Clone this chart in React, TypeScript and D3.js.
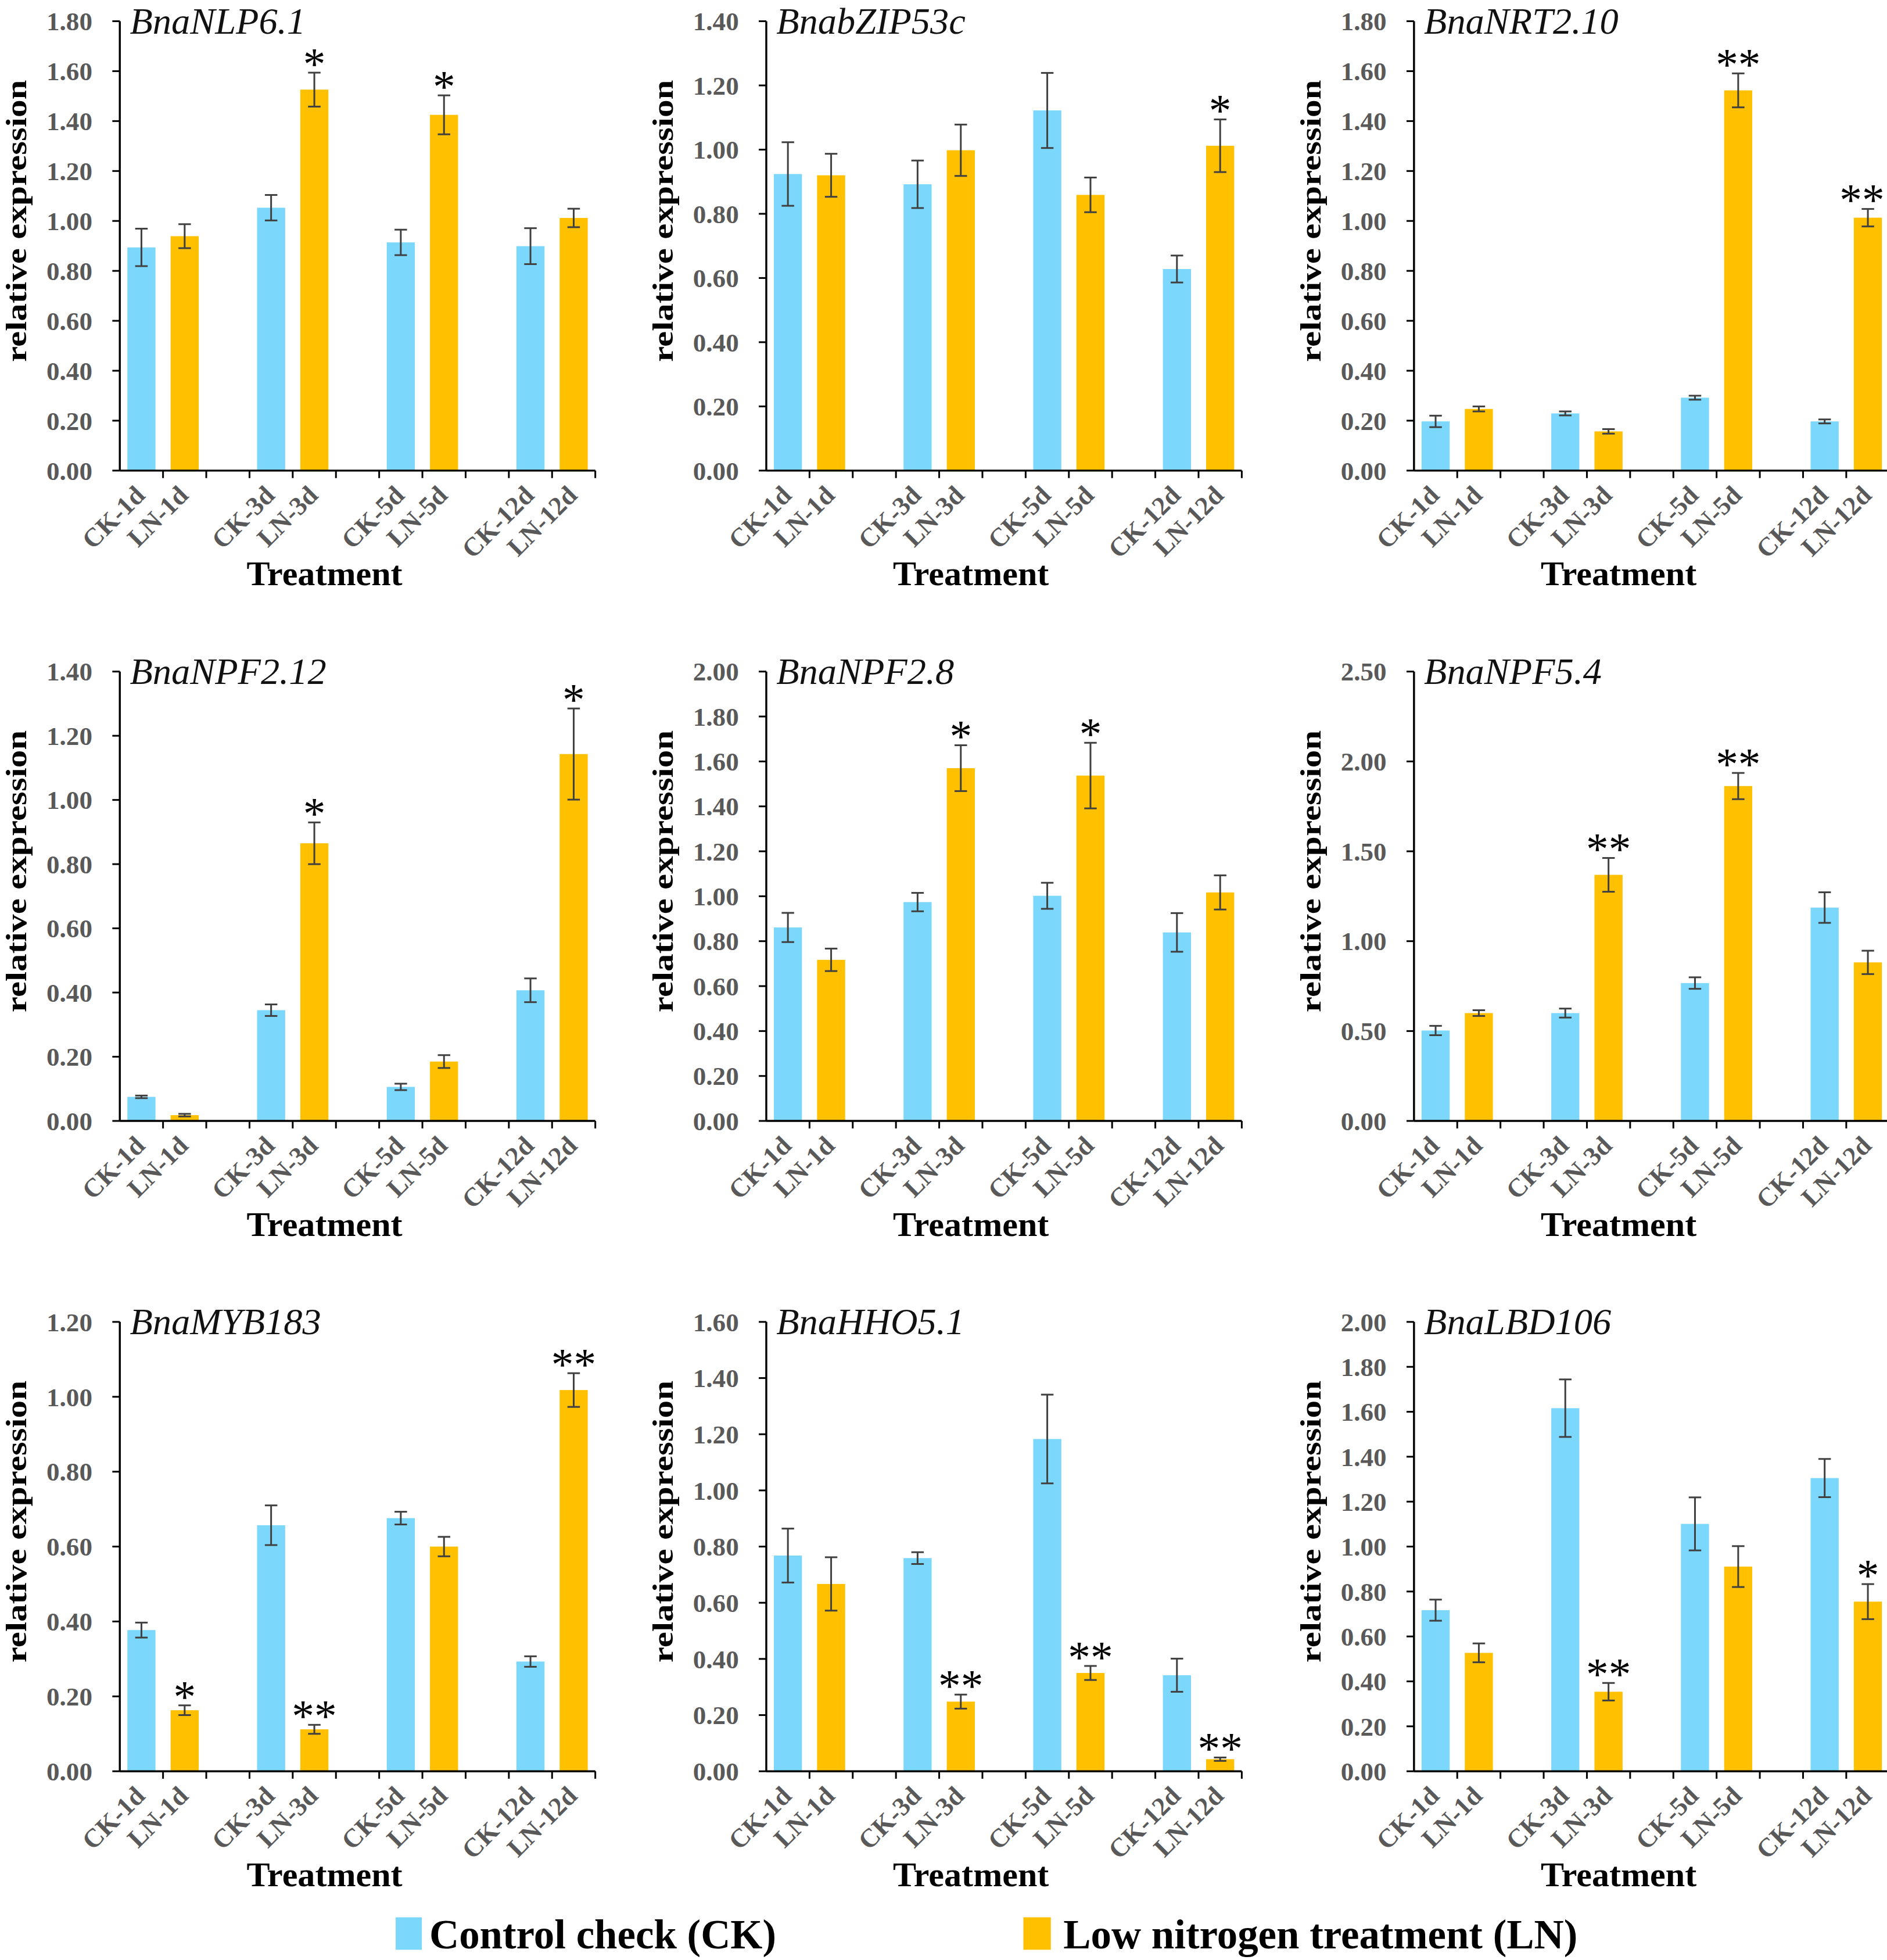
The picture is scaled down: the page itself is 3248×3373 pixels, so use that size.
import React from 'react';
import * as d3 from 'd3';

// gene panels, left to right, top to bottom
const genes = ['BnaNLP6.1', 'BnabZIP53c', 'BnaNRT2.10', 'BnaNPF2.12', 'BnaNPF2.8', 'BnaNPF5.4', 'BnaMYB183', 'BnaHHO5.1', 'BnaLBD106'];
const yMax = [1.8, 1.4, 1.8, 1.4, 2.0, 2.5, 1.2, 1.6, 2.0];
const yStep = [0.2, 0.2, 0.2, 0.2, 0.2, 0.5, 0.2, 0.2, 0.2];

const days = ['1d', '3d', '5d', '12d'];

// control check (CK) mean and error per day
const ckMean = [
  [0.894, 1.053, 0.914, 0.899],
  [0.924, 0.892, 1.122, 0.628],
  [0.197, 0.229, 0.292, 0.197],
  [0.075, 0.345, 0.106, 0.407],
  [0.861, 0.974, 1.002, 0.839],
  [0.503, 0.600, 0.767, 1.187],
  [0.377, 0.657, 0.676, 0.293],
  [0.768, 0.759, 1.183, 0.342],
  [0.717, 1.616, 1.101, 1.305],
];
const ckErr = [
  [0.075, 0.051, 0.051, 0.072],
  [0.099, 0.074, 0.117, 0.042],
  [0.023, 0.008, 0.008, 0.008],
  [0.004, 0.018, 0.010, 0.037],
  [0.065, 0.041, 0.058, 0.086],
  [0.026, 0.025, 0.032, 0.085],
  [0.020, 0.053, 0.017, 0.014],
  [0.096, 0.021, 0.158, 0.059],
  [0.047, 0.128, 0.118, 0.085],
];

// low nitrogen (LN) mean, error and significance mark per day
const lnMean = [
  [0.939, 1.526, 1.425, 1.012],
  [0.920, 0.998, 0.859, 1.012],
  [0.247, 0.157, 1.523, 1.013],
  [0.018, 0.865, 0.185, 1.143],
  [0.717, 1.570, 1.537, 1.017],
  [0.600, 1.369, 1.863, 0.882],
  [0.163, 0.112, 0.600, 1.018],
  [0.667, 0.248, 0.350, 0.043],
  [0.527, 0.354, 0.911, 0.755],
];
const lnErr = [
  [0.048, 0.068, 0.078, 0.037],
  [0.067, 0.080, 0.054, 0.082],
  [0.010, 0.009, 0.068, 0.035],
  [0.004, 0.065, 0.020, 0.142],
  [0.050, 0.102, 0.146, 0.076],
  [0.016, 0.094, 0.073, 0.065],
  [0.013, 0.012, 0.026, 0.045],
  [0.095, 0.025, 0.025, 0.006],
  [0.042, 0.039, 0.091, 0.078],
];
const lnSig = [
  ['', '*', '*', ''],
  ['', '', '', '*'],
  ['', '', '**', '**'],
  ['', '*', '', '*'],
  ['', '*', '*', ''],
  ['', '**', '**', ''],
  ['*', '**', '', '**'],
  ['', '**', '**', '**'],
  ['', '**', '', '*'],
];

const legendLabels = ['Control check (CK)', 'Low nitrogen treatment (LN)'];

const BLUE = '#7BD8FC';
const ORANGE = '#FFC000';
const FONT = '"Liberation Serif", "Times New Roman", serif';

const VW = 1512;
const VH = 1570.2;
const W = 381;
const H = 360;
const colX = [96, 614, 1133];
const rowY = [17, 538, 1059];
const STAR_SIZE = 36;

// 11 slots: CK, LN, gap for each day (no gap after the last)
const slots: string[] = [];
days.forEach((d, i) => {
  slots.push('CK-' + d, 'LN-' + d);
  if (i < days.length - 1) slots.push('gap' + i);
});

function Panel({ g }: { g: number }) {
  const x0 = colX[g % 3];
  const y0 = rowY[Math.floor(g / 3)];

  const x = d3.scaleBand<string>().domain(slots).range([0, W]).paddingInner(0.35).paddingOuter(0.175);
  const y = d3.scaleLinear().domain([0, yMax[g]]).range([H, 0]);
  const ticks = d3.range(0, yMax[g] + 1e-6, yStep[g]);
  const fmt = d3.format('.2f');
  const bw = x.bandwidth();
  const step = x.step();

  const bars = days.flatMap((d, i) => [
    { key: 'CK-' + d, v: ckMean[g][i], e: ckErr[g][i], fill: BLUE, sig: '' },
    { key: 'LN-' + d, v: lnMean[g][i], e: lnErr[g][i], fill: ORANGE, sig: lnSig[g][i] },
  ]);

  return (
    <g transform={`translate(${x0},${y0})`}>
      {bars.map(b => (
        <rect key={b.key} x={x(b.key)} y={y(b.v)} width={bw} height={H - y(b.v)} fill={b.fill} />
      ))}
      {bars.map(b => {
        const cx = (x(b.key) as number) + bw / 2;
        return (
          <g key={'e' + b.key} stroke="#404040" strokeWidth={1.4}>
            <line x1={cx} x2={cx} y1={y(b.v + b.e)} y2={y(b.v - b.e)} />
            <line x1={cx - 5} x2={cx + 5} y1={y(b.v + b.e)} y2={y(b.v + b.e)} />
            <line x1={cx - 5} x2={cx + 5} y1={y(b.v - b.e)} y2={y(b.v - b.e)} />
          </g>
        );
      })}
      {bars.filter(b => b.sig).map(b => {
        const cx = (x(b.key) as number) + bw / 2;
        // keep the mark inside the page at the right edge
        const half = (b.sig.length * STAR_SIZE) / 4;
        const sx = Math.min(cx, VW - 2 - x0 - half);
        return (
          <text key={'s' + b.key} x={sx} y={y(b.v + b.e) + 5} textAnchor="middle"
            fontFamily={FONT} fontSize={STAR_SIZE} fill="#000">
            {b.sig}
          </text>
        );
      })}

      {/* y axis */}
      <line x1={0} x2={0} y1={0} y2={H} stroke="#000" strokeWidth={1.6} />
      {ticks.map(t => (
        <g key={'t' + t} transform={`translate(0,${y(t)})`}>
          <line x1={-6} x2={0} stroke="#000" strokeWidth={1.4} />
          <text x={-22} dy="0.35em" textAnchor="end" fontFamily={FONT} fontWeight="bold" fontSize={21} fill="#595959">
            {fmt(t)}
          </text>
        </g>
      ))}

      {/* x axis */}
      <line x1={0} x2={W} y1={H} y2={H} stroke="#000" strokeWidth={1.6} />
      {slots.map((s, i) => (
        <line key={'xt' + s} x1={(i + 1) * step} x2={(i + 1) * step} y1={H} y2={H + 6} stroke="#000" strokeWidth={1.4} />
      ))}
      {slots.filter(s => !s.startsWith('gap')).map(s => {
        const cx = (x(s) as number) + bw / 2 + 4;
        return (
          <text key={'xl' + s} transform={`translate(${cx},${H + 21}) rotate(-45)`} textAnchor="end"
            fontFamily={FONT} fontWeight="bold" fontSize={21} fill="#595959">
            {s}
          </text>
        );
      })}

      <text x={164} y={H + 92} textAnchor="middle" fontFamily={FONT} fontWeight="bold" fontSize={28} fill="#000">
        Treatment
      </text>
      <text transform={`translate(-75,${160}) rotate(-90)`} textAnchor="middle" fontFamily={FONT} fontWeight="bold"
        fontSize={24} fill="#000" textLength={226} lengthAdjust="spacingAndGlyphs">
        relative expression
      </text>
      <text x={8} y={10} fontFamily={FONT} fontStyle="italic" fontSize={30} fill="#111">
        {genes[g]}
      </text>
    </g>
  );
}

export default function App() {
  return (
    <svg width={3248} height={3373} viewBox={`0 0 ${VW} ${VH}`}
      style={{ position: 'absolute', left: 0, top: 0, background: '#fff' }}>
      <rect width={VW} height={VH} fill="#fff" />
      {genes.map((_, g) => <Panel key={genes[g]} g={g} />)}
      <g>
        <rect x={317} y={1536} width={21} height={26} fill={BLUE} />
        <text x={344} y={1561} fontFamily={FONT} fontWeight="bold" fontSize={33} fill="#000">{legendLabels[0]}</text>
        <rect x={820} y={1536} width={22} height={26} fill={ORANGE} />
        <text x={852} y={1561} fontFamily={FONT} fontWeight="bold" fontSize={33} fill="#000">{legendLabels[1]}</text>
      </g>
    </svg>
  );
}
